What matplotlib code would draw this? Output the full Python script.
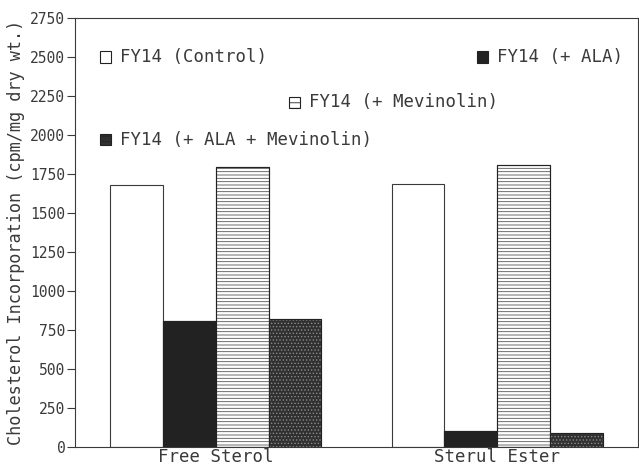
import matplotlib
matplotlib.use("Agg")
import matplotlib.pyplot as plt
from matplotlib.patches import Rectangle
import numpy as np

# datos
grupos = ["Free Sterol", "Sterul Ester"]
control = [1680, 1685]
ala = [805, 103]
mevinolin = [1795, 1810]
ala_mev = [820, 92]

series = ["FY14 (Control)", "FY14 (+ ALA)", "FY14 (+ Mevinolin)", "FY14 (+ ALA + Mevinolin)"]

plt.rcParams["font.family"] = "DejaVu Sans Mono"
plt.rcParams["hatch.linewidth"] = 0.6
gris = "#3a3a3a"

fig = plt.figure(figsize=(6.39, 4.65), dpi=100)
ax = fig.add_axes([75/639, 18/465, 563/639, 429/465])

x = np.arange(len(grupos))
w = 0.1875
estilos = [
    dict(facecolor="white", edgecolor=gris, hatch=None),
    dict(facecolor="#222222", edgecolor="#222222", hatch=None),
    dict(facecolor="white", edgecolor="#555555", hatch="-----"),
    dict(facecolor="#303030", edgecolor="#8a8a8a", hatch="....."),
]
datos = [control, ala, mevinolin, ala_mev]
for i, (vals, st) in enumerate(zip(datos, estilos)):
    ax.bar(x + (i - 1.5) * w, vals, w, linewidth=0.8, **st)
    if i > 0:
        # borde negro encima del hatch
        ax.bar(x + (i - 1.5) * w, vals, w, facecolor="none", edgecolor="#222222", linewidth=0.8)

ax.set_xlim(-0.5, 1.5)
ax.set_ylim(0, 2750)
ax.set_yticks(np.arange(0, 2751, 250))
ax.set_xticks(x)
ax.set_xticklabels(grupos)
ax.tick_params(axis="x", length=0, pad=1, labelsize=12.5, colors=gris)
ax.tick_params(axis="y", direction="out", length=6, width=0.8, labelsize=10.5, colors=gris, pad=1)
for s in ax.spines.values():
    s.set_color(gris)
    s.set_linewidth(0.8)
ax.set_ylabel("Cholesterol Incorporation (cpm/mg dry wt.)", fontsize=12.2, color=gris, labelpad=4)

# leyenda repartida por el grafico
pos = [(0.044, 0.909), (0.714, 0.909), (0.380, 0.804), (0.044, 0.716)]
sw, sh = 0.0195, 0.026
for (px, py), lab, st in zip(pos, series, estilos):
    if st["hatch"] is None:
        cuadro = dict(facecolor=st["facecolor"], edgecolor="#222222")
    else:
        cuadro = dict(facecolor=st["facecolor"], edgecolor="#222222", hatch="---")
    ax.add_patch(Rectangle((px, py - sh / 2), sw, sh, transform=ax.transAxes,
                           linewidth=0.8, **cuadro))
    ax.text(px + 0.036, py, lab, transform=ax.transAxes, va="center", ha="left",
            fontsize=12.5, color=gris)

fig.savefig("out.png", dpi=100)
